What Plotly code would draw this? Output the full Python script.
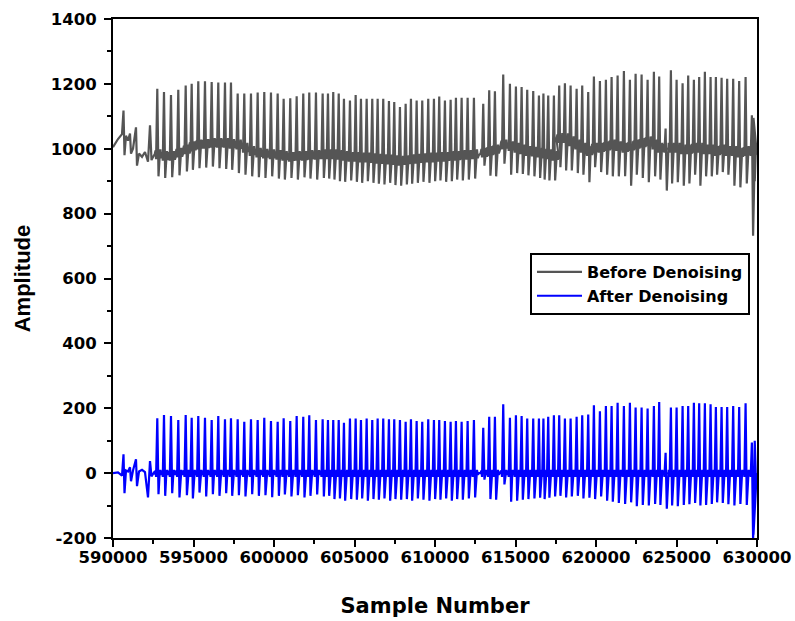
import plotly.graph_objects as go

# ---------------- data ----------------
# irregular activity before the first full beat
pre_x = [590000, 590311, 590559, 590652, 590714, 590807, 590932, 591056, 591118, 591242,
         591428, 591490, 591615, 591801, 591987, 592174, 592298, 592391, 592546]
pre_after = [0, 2, -8, 58, -62, 8, 5, 18, -25, 8, 43, -40, 5, 10, 3, -75, 37, -10, 2]
pre_before = [1005, 1030, 1045, 1118, 980, 1040, 1025, 1047, 985, 1000,
              1066, 948, 985, 975, 990, 960, 1072, 965, 980]

# R-peak sample positions
beats = [592751, 593167, 593602, 594055, 594515, 594887, 595297, 595713, 596129, 596539,
         596955, 597328, 597744, 598154, 598570, 598986, 599396, 599812, 600228, 600600,
         601010, 601408, 601818, 602190, 602606, 603022, 603352,
         603680, 604020, 604345, 604718, 605072, 605401, 605755, 606103, 606438, 606786,
         607140, 607469, 607823, 608177, 608506, 608860, 609208, 609580, 609934, 610263,
         610617, 610971, 611300, 611654, 612027, 612418,
         612996, 613368, 613722, 614238, 614654, 615026, 615380, 615728, 616101, 616455, 616734,
         617032, 617386, 617715, 618069, 618423, 618796, 619144, 619516, 619870, 620243,
         620615, 620969, 621342, 621733, 622106, 622460, 622832, 623205, 623596, 623925,
         624323, 624652, 625006, 625378, 625726, 626080, 626409, 626763, 627117, 627446,
         627800, 628148, 628521, 628893, 629291, 629682]

after_peak = [169, 179, 176, 164, 179, 171, 176, 171, 164, 176, 166, 169, 166, 158, 166, 164,
              171, 161, 158, 169, 161, 176, 174, 178, 164, 166, 164,
              164, 164, 155, 168, 168, 164, 168, 164, 168, 168, 166, 166, 164, 158, 166, 161,
              158, 166, 164, 164, 161, 158, 161, 158, 161, 164,
              140, 174, 174, 212, 171, 178, 176, 168, 168, 168, 168,
              174, 178, 178, 168, 168, 174, 178, 181, 209, 191, 207, 207, 217, 207, 217, 202,
              202, 199, 207, 219, 63, 202, 202, 207, 207, 217, 215, 215, 212, 204, 204, 204,
              207, 204, 215, 94]
after_trough = [-65, -70, -62, -75, -68, -78, -60, -72, -65, -70, -62, -70, -68, -72, -65, -70,
                -68, -74, -70, -66, -72, -68, -75, -70, -66, -72, -70,
                -80, -78, -85, -80, -82, -78, -85, -80, -82, -78, -85, -80, -82, -80, -85, -78,
                -82, -85, -80, -82, -78, -85, -80, -82, -78, -75,
                -20, -80, -82, -35, -88, -85, -82, -80, -78, -76, -80,
                -76, -72, -70, -75, -72, -70, -78, -76, -80, -72, -85, -88, -92, -95, -90, -102,
                -98, -100, -95, -98, -110, -100, -102, -98, -96, -92, -100, -98, -95, -90, -92,
                -96, -100, -95, -98, -205]

before_base = [980, 975, 975, 985, 995, 1005, 1010, 1012, 1015, 1015, 1015, 1012, 1010, 1000,
               990, 985, 982, 980, 978, 975, 972, 975, 975, 978, 978, 980, 980,
               980, 978, 975, 972, 972, 970, 970, 968, 966, 965, 964, 962, 960, 962, 965, 966,
               968, 970, 970, 972, 972, 975, 975, 978, 978, 980,
               985, 990, 995, 1010, 1005, 1000, 995, 990, 988, 985, 982,
               980, 975, 1030, 1030, 1020, 1010, 1000, 990, 1000, 1000, 1005, 1010, 1005, 1000,
               1005, 1010, 1015, 1020, 1010, 1000, 1000, 1000, 1000, 995, 995, 1000, 1000, 995,
               995, 990, 995, 990, 990, 985, 990, 990]
before_peak = [1185, 1175, 1166, 1182, 1195, 1200, 1208, 1208, 1206, 1204, 1204, 1204, 1170,
               1170, 1170, 1173, 1175, 1173, 1170, 1154, 1156, 1162, 1170, 1173, 1173, 1170, 1170,
               1175, 1170, 1154, 1149, 1166, 1154, 1154, 1154, 1154, 1154, 1147, 1144, 1129,
               1139, 1154, 1149, 1149, 1154, 1154, 1161, 1149, 1151, 1157, 1157, 1157, 1157,
               1139, 1180, 1177, 1229, 1200, 1192, 1190, 1182, 1178, 1164, 1170,
               1164, 1164, 1195, 1202, 1195, 1185, 1195, 1175, 1223, 1209, 1213, 1221, 1226,
               1240, 1213, 1231, 1229, 1213, 1237, 1223, 1062, 1242, 1213, 1202, 1226, 1213,
               1221, 1237, 1221, 1221, 1219, 1216, 1216, 1209, 1221, 1103]
before_trough = [915, 910, 912, 918, 930, 935, 940, 942, 945, 940, 938, 935, 925, 920, 915, 912,
                 910, 915, 908, 905, 910, 905, 912, 908, 905, 910, 908,
                 905, 900, 898, 902, 898, 895, 900, 895, 892, 890, 895, 888, 886, 890, 892, 895,
                 898, 895, 900, 902, 898, 900, 905, 902, 905, 908,
                 948, 917, 915, 954, 920, 925, 922, 918, 915, 910, 905,
                 902, 902, 943, 933, 933, 925, 920, 897, 943, 928, 920, 915, 915, 915, 886, 920,
                 910, 897, 915, 905, 871, 893, 897, 886, 893, 920, 886, 915, 915, 920, 928, 920,
                 886, 881, 893, 732]

# samples at the right edge after the last beat
tail_x = [629780, 629860, 629930, 630000]
tail_after = [-190, 100, -20, 0]
tail_before = [1095, 900, 1000, 985]

x_ticks = [590000, 595000, 600000, 605000, 610000, 615000, 620000, 625000, 630000]
x_labels = ["590000", "595000", "600000", "605000", "610000", "615000", "620000", "625000", "630000"]
y_ticks = [-200, 0, 200, 400, 600, 800, 1000, 1200, 1400]
y_labels = ["-200", "0", "200", "400", "600", "800", "1000", "1200", "1400"]

# ---------------- build the traces ----------------
def build(base_list, peak_list, trough_list, pre_y, tail_y, t_amp):
    xs, ys = list(pre_x), list(pre_y)
    for i, b in enumerate(beats):
        base = base_list[i] if base_list is not None else 0
        xs += [b - 170, b - 110, b - 75, b, b + 75, b + 140, b + 190, b + 240, b + 300]
        ys += [base, base + t_amp * 0.8, base - 12, peak_list[i], trough_list[i],
               base - t_amp * 0.6, base + t_amp, base - t_amp * 0.5, base]
    xs += tail_x
    ys += tail_y
    return xs, ys

bx, by = build(before_base, before_peak, before_trough, pre_before, tail_before, 18)
ax, ay = build(None, after_peak, after_trough, pre_after, tail_after, 10)

fig = go.Figure()
fig.add_trace(go.Scatter(x=bx, y=by, mode="lines", name="Before Denoising",
                         line=dict(color="#555555", width=2.2)))
fig.add_trace(go.Scatter(x=ax, y=ay, mode="lines", name="After Denoising",
                         line=dict(color="#0000ff", width=2.2)))

tickfont = dict(family="DejaVu Sans", size=16.5, color="black", weight="bold")
axis_common = dict(showline=True, linecolor="black", linewidth=2, mirror=True,
                   ticks="outside", ticklen=7, tickwidth=2, tickcolor="black",
                   showgrid=False, zeroline=False, tickfont=tickfont, automargin=False)

fig.update_xaxes(range=[590000, 630000], tickvals=x_ticks, ticktext=x_labels,
                 ticklabelstandoff=-4,
                 minor=dict(ticks="outside", ticklen=4, tickwidth=1.5, tickcolor="black", dtick=2500),
                 title=dict(text="Sample Number", standoff=33,
                            font=dict(family="DejaVu Sans", size=21, color="black", weight="bold")),
                 **axis_common)
fig.update_yaxes(range=[-200, 1400], tickvals=y_ticks, ticktext=y_labels,
                 ticklabelstandoff=4,
                 minor=dict(ticks="outside", ticklen=4, tickwidth=1.5, tickcolor="black", dtick=100),
                 title=dict(text="Amplitude", standoff=14,
                            font=dict(family="Liberation Sans", size=22, color="black", weight="bold")),
                 **axis_common)

fig.update_layout(
    width=795, height=621,
    margin=dict(l=113, r=38, t=19, b=83, autoexpand=False),
    paper_bgcolor="white", plot_bgcolor="white",
    showlegend=True,
    legend=dict(x=0.6475, y=0.549, xanchor="left", yanchor="top",
                bgcolor="white", bordercolor="black", borderwidth=2,
                font=dict(family="DejaVu Sans", size=16, color="black", weight="bold"),
                itemwidth=45, tracegroupgap=0),
)

fig.write_html("out.html",
               config={"displayModeBar": False},
               post_script="document.body.style.margin='0';document.body.style.overflow='hidden';")
